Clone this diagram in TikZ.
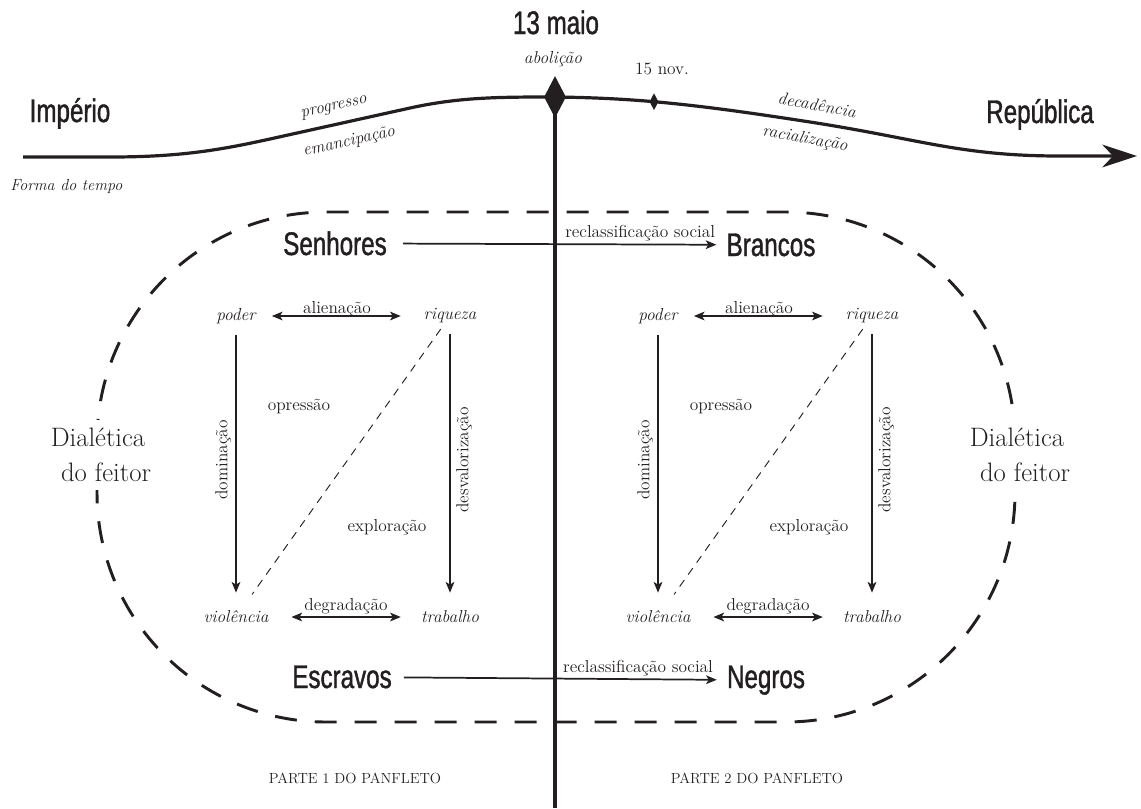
\documentclass[tikz,border=0pt]{standalone}
\usepackage{fontspec}
\newfontfamily\cond{Liberation Sans}[FakeStretch=0.74,FakeBold=1.2]
\usetikzlibrary{arrows.meta,shapes.geometric}
\definecolor{ink}{HTML}{231F20}
\begin{document}
\begin{tikzpicture}[x=0.75pt,y=-0.75pt, color=ink,
  big/.style={font=\cond\fontsize{24.5}{28}\selectfont, inner sep=0pt, anchor=base},
  lab/.style={font=\fontsize{13}{15}\selectfont, inner sep=0pt},
  ilab/.style={font=\itshape\fontsize{13}{15}\selectfont, inner sep=0pt},
  tip/.tip={Stealth[length=8pt,width=6.5pt,inset=2pt]},
  arr/.style={line width=1.3pt, -tip},
  darr/.style={line width=1.3pt, tip-tip},
  thindash/.style={line width=0.7pt, dash pattern=on 6pt off 5pt},
  bigdash/.style={line width=2.2pt, dash pattern=on 16.5pt off 13.5pt, rounded corners=172pt},
  dial/.style={font=\fontsize{20}{26}\selectfont, align=center, fill=white, inner xsep=3pt, inner ysep=6pt},
  parte/.style={font=\fontsize{11}{13}\selectfont, inner sep=0pt},
]
\useasboundingbox (0,0) rectangle (1141,808);

% dashed frame
\draw[bigdash] (97,212) rectangle (1015,722);
\node[dial] (dl) at (98,455) {Dialética\\\hspace*{12pt}do feitor};
\node[dial] (dr) at (1017,455) {Dialética\\\hspace*{12pt}do feitor};

% timeline
\node[diamond, fill=ink, inner sep=0pt, minimum width=16.5pt, minimum height=31.5pt] (d13) at (555,97) {};
\node[diamond, fill=ink, inner sep=0pt, minimum width=6.75pt, minimum height=12.75pt] (d15) at (654,101.7) {};
\coordinate (t0) at (23,157);
\coordinate (t1) at (1137,156);
\coordinate (vb) at (555,808);
\draw[line width=2.4pt, -{Stealth[length=26pt,width=17pt,inset=8pt]}]
  (t0) -- (110,157) .. controls (180,157) and (220,150) .. (270,139)
  -- (410,108) .. controls (460,97) and (500,97) .. (d13.center)
  .. controls (640,98) and (700,105) .. (810,122)
  .. controls (920,139) and (960,156) .. (1060,156) -- (t1);
\draw[line width=2.4pt] (d13.center) -- (vb);

\node[big] (maio) at (556,34) {13 maio};
\node[ilab] (abol) at (553,59) {abolição};
\node[lab] (nov) at (662,69) {15 nov.};
\node[big] (imp) at (70,122) {Império};
\node[big] (rep) at (1040,123) {República};
\node[ilab, anchor=west, font=\itshape\fontsize{12}{14}\selectfont] (forma) at (10,186) {Forma do tempo};
\node[ilab, rotate=12.5] (prog) at (334,108) {progresso};
\node[ilab, rotate=12.5] (eman) at (349,142) {emancipação};
\node[ilab, rotate=-10] (deca) at (817,105) {decadência};
\node[ilab, rotate=-10] (raci) at (805,139) {racialização};

% main classes
\node[big] (senhores) at (335,255) {Senhores};
\node[big] (brancos) at (771,256) {Brancos};
\node[big] (escravos) at (342,688) {Escravos};
\node[big] (negros) at (766,688) {Negros};
\draw[arr, shorten <=12pt, shorten >=7.5pt] (senhores) -- (brancos)
  node[lab, pos=0.746, above=2pt] (rc1) {reclassificação social};
\draw[arr, shorten <=9pt, shorten >=7.5pt] (escravos) -- (negros)
  node[lab, pos=0.735, above=2pt] (rc2) {reclassificação social};

% squares
\foreach \o/\s in {0/a,422/b}{
  \node[ilab] (poder\s) at (236+\o,316) {poder};
  \node[ilab] (riqueza\s) at (450+\o,316) {riqueza};
  \node[ilab] (violencia\s) at (236+\o,617) {violência};
  \node[ilab] (trabalho\s) at (450+\o,617) {trabalho};
  \draw[darr, shorten <=12pt, shorten >=17pt] (poder\s) -- (riqueza\s);
  \node[lab, anchor=base] (alien\s) at (337+\o,313) {alienação};
  \draw[darr, shorten <=17pt, shorten >=15pt] (violencia\s) -- (trabalho\s);
  \node[lab, anchor=base] (degr\s) at (346+\o,610) {degradação};
  \draw[arr, shorten <=8pt, shorten >=13.5pt] (poder\s) -- (violencia\s);
  \draw[arr, shorten <=8pt, shorten >=13.5pt] (riqueza\s) -- (trabalho\s);
  \node[lab, rotate=90] (domi\s) at (223+\o,460) {dominação};
  \node[lab, rotate=90] (desv\s) at (464+\o,460) {desvalorização};
  \draw[thindash, shorten <=5pt, shorten >=15pt] (riqueza\s) -- (violencia\s);
  \node[lab] (opre\s) at (299+\o,407) {opressão};
  \node[lab] (expl\s) at (387+\o,527) {exploração};
}

\node[parte] (p1) at (355,778) {PARTE 1 DO PANFLETO};
\node[parte] (p2) at (757,778) {PARTE 2 DO PANFLETO};
\end{tikzpicture}
\end{document}
